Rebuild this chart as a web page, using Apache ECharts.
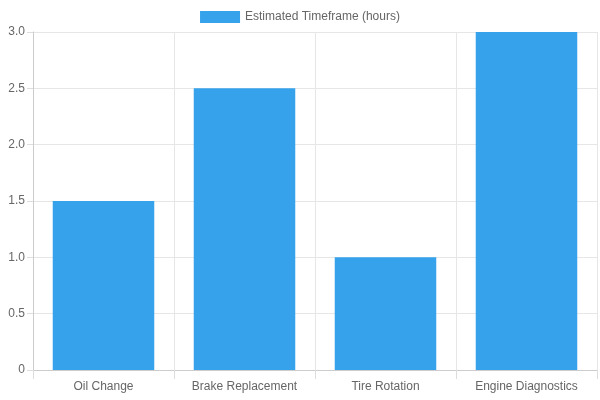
<!DOCTYPE html>
<html>
<head>
<meta charset="utf-8">
<script src="https://cdn.jsdelivr.net/npm/echarts@6/dist/echarts.min.js"></script>
<style>
  html, body { margin: 0; padding: 0; background: #fff; }
  #main { width: 600px; height: 400px; }
</style>
</head>
<body>
<div id="main"></div>
<script>
  // data
  var services = ['Oil Change', 'Brake Replacement', 'Tire Rotation', 'Engine Diagnostics'];
  var hours = [1.5, 2.5, 1.0, 3.0];
  var seriesName = 'Estimated Timeframe (hours)';

  var chart = echarts.init(document.getElementById('main'));
  chart.setOption({
    animation: false,
    textStyle: { fontFamily: 'Liberation Sans, Arial, sans-serif' },
    legend: {
      top: 6,
      left: 'center',
      icon: 'rect',
      itemWidth: 40,
      itemHeight: 12,
      itemGap: 10,
      textStyle: { color: '#666', fontSize: 12 },
      data: [seriesName]
    },
    grid: { left: 33, right: 3, top: 32, bottom: 30 },
    xAxis: {
      type: 'category',
      data: services,
      axisLine: { lineStyle: { color: '#ccc' } },
      axisTick: { show: true, length: 9, lineStyle: { color: '#ddd' } },
      axisLabel: { color: '#666', fontSize: 12, margin: 11 },
      splitLine: { show: true, lineStyle: { color: '#e6e6e6' } }
    },
    yAxis: {
      type: 'value',
      min: 0,
      max: 3,
      interval: 0.5,
      axisLine: { show: true, lineStyle: { color: '#ccc' } },
      axisTick: { show: true, length: 6, lineStyle: { color: '#ddd' } },
      axisLabel: {
        color: '#666', fontSize: 12, margin: 8,
        formatter: function (v) { return v === 0 ? '0' : v.toFixed(1); }
      },
      splitLine: { lineStyle: { color: '#e6e6e6' } }
    },
    series: [{
      name: seriesName,
      type: 'bar',
      data: hours,
      barWidth: '72%',
      itemStyle: { color: '#36a2eb' }
    }]
  });
</script>
</body>
</html>
